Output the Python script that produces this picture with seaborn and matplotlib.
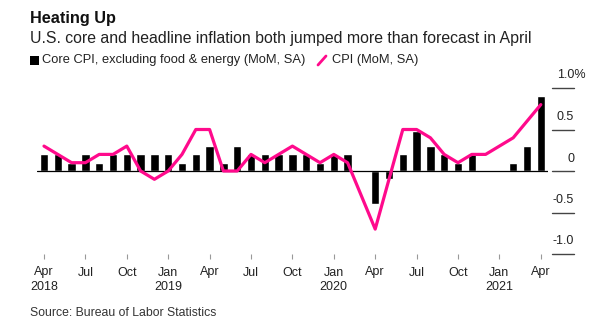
import matplotlib
matplotlib.use("Agg")
import matplotlib.pyplot as plt
import matplotlib.transforms as mtransforms
from matplotlib.lines import Line2D
from matplotlib.patches import Rectangle
import seaborn as sns
import pandas as pd
import numpy as np

# ---- data (Apr 2018 .. Apr 2021) ----
months = ["Apr 2018", "May 2018", "Jun 2018", "Jul 2018", "Aug 2018", "Sep 2018",
          "Oct 2018", "Nov 2018", "Dec 2018", "Jan 2019", "Feb 2019", "Mar 2019",
          "Apr 2019", "May 2019", "Jun 2019", "Jul 2019", "Aug 2019", "Sep 2019",
          "Oct 2019", "Nov 2019", "Dec 2019", "Jan 2020", "Feb 2020", "Mar 2020",
          "Apr 2020", "May 2020", "Jun 2020", "Jul 2020", "Aug 2020", "Sep 2020",
          "Oct 2020", "Nov 2020", "Dec 2020", "Jan 2021", "Feb 2021", "Mar 2021",
          "Apr 2021"]
core_cpi = [0.2, 0.2, 0.1, 0.2, 0.1, 0.2, 0.2, 0.2, 0.2, 0.2, 0.1, 0.2,
            0.3, 0.1, 0.3, 0.2, 0.2, 0.2, 0.2, 0.2, 0.1, 0.2, 0.2, 0.0,
            -0.4, -0.1, 0.2, 0.48, 0.3, 0.2, 0.1, 0.2, 0.0, 0.0, 0.1, 0.3,
            0.9]
cpi = [0.3, 0.2, 0.1, 0.1, 0.2, 0.2, 0.3, 0.0, -0.1, 0.0, 0.2, 0.5,
       0.5, 0.0, 0.0, 0.2, 0.1, 0.2, 0.3, 0.2, 0.1, 0.2, 0.1, -0.3,
       -0.7, -0.1, 0.5, 0.5, 0.4, 0.2, 0.1, 0.2, 0.2, 0.3, 0.4, 0.6,
       0.8]
tick_labels = ["Apr\n2018", "Jul", "Oct", "Jan\n2019", "Apr", "Jul", "Oct",
               "Jan\n2020", "Apr", "Jul", "Oct", "Jan\n2021", "Apr"]
y_ticks = [1.0, 0.5, 0.0, -0.5, -1.0]
y_labels = ["1.0%", "0.5", "0", "-0.5", "-1.0"]

title = "Heating Up"
subtitle = "U.S. core and headline inflation both jumped more than forecast in April"
legend_core = "Core CPI, excluding food & energy (MoM, SA)"
legend_cpi = "CPI (MoM, SA)"
source = "Source: Bureau of Labor Statistics"

PINK = "#ff0a8c"

df = pd.DataFrame({"month": months, "core": core_cpi, "cpi": cpi})
df["idx"] = np.arange(len(df))

sns.set_style("white")
plt.rcParams["font.family"] = ["Liberation Sans", "DejaVu Sans"]

W, H = 599, 329
fig = plt.figure(figsize=(W / 100, H / 100), dpi=100)
ax_left, ax_right = 37.1, 547.7
ax_top, ax_bot = 88, 254
ax = fig.add_axes([ax_left / W, 1 - ax_bot / H, (ax_right - ax_left) / W, (ax_bot - ax_top) / H])

sns.barplot(data=df, x="idx", y="core", color="black", width=0.6, ax=ax,
            saturation=1, order=list(range(len(df))))
sns.lineplot(data=df, x="idx", y="cpi", color=PINK, linewidth=2.3, ax=ax)

ax.set_xlim(-0.5, len(df) - 0.5)
ax.set_ylim(-1.0, 1.0)
ax.axhline(0, color="black", lw=0.9, zorder=1)

for s in ax.spines.values():
    s.set_visible(False)
ax.set_xlabel("")
ax.set_ylabel("")
ax.set_yticks([])
ax.set_xticks(list(range(0, len(df), 3)))
ax.set_xticklabels(tick_labels, fontsize=9.0, linespacing=1.25, color="#222")
ax.tick_params(axis="x", direction="out", length=3.5, width=0.8, color="#999",
               pad=5.5, bottom=True)

# right-side value labels with short rules
trans = mtransforms.blended_transform_factory(ax.transAxes, ax.transData)
x0 = (552 - ax_left) / (ax_right - ax_left)
x1 = (574 - ax_left) / (ax_right - ax_left)
for v, lab in zip(y_ticks, y_labels):
    ax.plot([x0, x1], [v, v], transform=trans, color="#444", lw=1.0, clip_on=False)
    if lab.endswith("%"):
        ax.annotate(lab, xy=(x1, v), xycoords=trans, xytext=(-12, 9),
                    textcoords="offset points", ha="left", va="center",
                    fontsize=9.0, color="#222")
    else:
        ax.annotate(lab, xy=(x1, v), xycoords=trans, xytext=(0, 9),
                    textcoords="offset points", ha="right", va="center",
                    fontsize=9.0, color="#222")

# titles
fig.text(30 / W, 1 - 18 / H, title, fontsize=11.7, fontweight="bold", va="center", ha="left", color="#111")
fig.text(30 / W, 1 - 39 / H, subtitle, fontsize=11.4, va="center", ha="left", color="#222")

# legend
fig.patches.append(Rectangle((30 / W, 1 - 65 / H), 8.5 / W, 8.5 / H, transform=fig.transFigure,
                             facecolor="black", edgecolor="none"))
fig.text(42 / W, 1 - 60.5 / H, legend_core, fontsize=9.3, va="center", ha="left", color="#222")
fig.lines.append(Line2D([318 / W, 326 / W], [1 - 65 / H, 1 - 56 / H], transform=fig.transFigure,
                        color=PINK, lw=2))
fig.text(332 / W, 1 - 60.5 / H, legend_cpi, fontsize=9.3, va="center", ha="left", color="#222")

fig.text(30 / W, 1 - 313 / H, source, fontsize=8.8, va="center", ha="left", color="#333")

fig.savefig("out.png", dpi=100)
